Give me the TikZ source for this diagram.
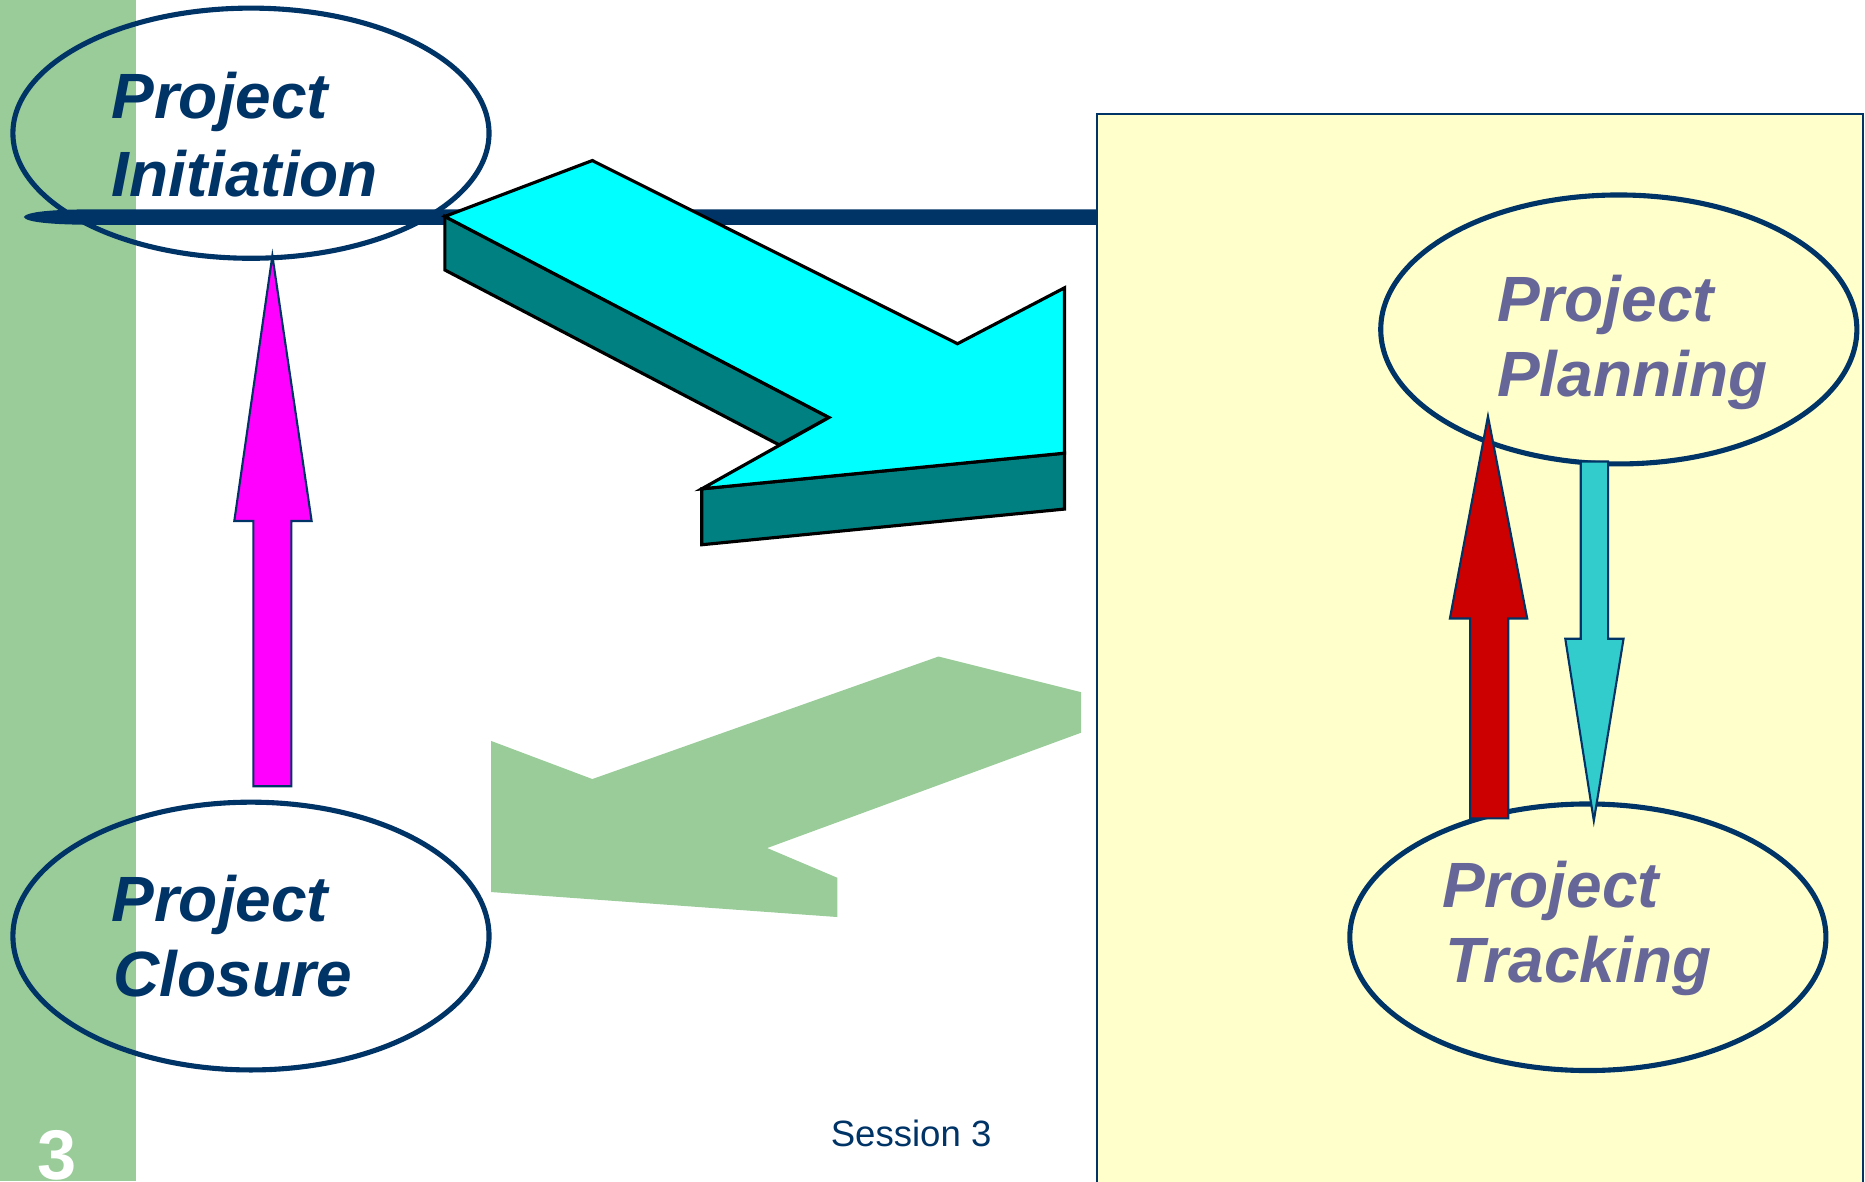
\documentclass[tikz,border=0pt]{standalone}
\usepackage{fontspec}
\setmainfont{Liberation Sans}
\usetikzlibrary{shapes.geometric}
\definecolor{navy}{HTML}{003366}
\definecolor{sidegreen}{HTML}{99CC99}
\definecolor{paleyellow}{HTML}{FFFFCC}
\definecolor{textpurple}{HTML}{666699}
\definecolor{tealside}{HTML}{008080}
\definecolor{cyanface}{HTML}{00FFFF}
\definecolor{magentaarrow}{HTML}{FF00FF}
\definecolor{redarrow}{HTML}{CC0000}
\definecolor{tealarrow}{HTML}{33CCCC}
\begin{document}
\begin{tikzpicture}[x=0.011894cm,y=-0.011894cm,
  phase/.style={ellipse, draw=navy, line width=1.45pt, inner sep=0pt, minimum width=4.758cm},
  phasetext/.style={anchor=base west, inner sep=0pt, font=\fontsize{18.2}{22}\selectfont\bfseries\itshape},
  blockarrow/.style={draw=navy, line width=0.6pt, line join=miter},
  face3d/.style={draw=black, line width=0.9pt, line join=miter}]
\useasboundingbox (0,0) rectangle (1568,993);
\fill[white] (0,0) rectangle (1568,993);
% side strip
\fill[sidegreen] (0,0) rectangle (114,993);
% yellow panel
\draw[fill=paleyellow, draw=navy, line width=0.6pt] (922,96) rectangle (1566,1000);
% pale green arrow
\fill[sidegreen] (909,582) -- (789,552) -- (498,655) -- (413,623) -- (413,750) -- (704,771) -- (704,738) -- (645,713) -- (909,616) -- cycle;
% phase ellipses
\node[phase, minimum height=2.50cm] (init) at (211,112) {};
\node[phase, minimum height=2.676cm] (closure) at (211,787) {};
\node[phase, minimum height=2.688cm] (plan) at (1361,277) {};
\node[phase, minimum height=2.664cm] (track) at (1335,788) {};
% navy bar
\fill[navy] (20,182.5) .. controls (22,178) and (45,176) .. (80,176) -- (922,176) -- (922,189) -- (80,189) .. controls (45,189) and (22,187) .. (20,182.5) -- cycle;
% 3D cyan arrow
\filldraw[face3d, fill=tealside] (374,182) -- (374,227) -- (655,374) -- (697,351) -- cycle;
\filldraw[face3d, fill=tealside] (590,411) -- (590,458) -- (895,428) -- (895,381) -- cycle;
\filldraw[face3d, fill=cyanface] (374,182) -- (498,135) -- (805,289) -- (895,242) -- (895,381) -- (590,411) -- (697,351) -- cycle;
% texts
\node[phasetext, text=navy] (initA) at (93,100) {Project};
\node[phasetext, text=navy] (initB) at (93,165) {Initiation};
\node[phasetext, text=navy] (closA) at (93,775) {Project};
\node[phasetext, text=navy] (closB) at (95,838) {Closure};
\node[phasetext, text=textpurple] (planA) at (1258,270) {Project};
\node[phasetext, text=textpurple] (planB) at (1258,333) {Planning};
\node[phasetext, text=textpurple] (trackA) at (1212,763) {Project};
\node[phasetext, text=textpurple] (trackB) at (1215,826) {Tracking};
% block arrows
\filldraw[blockarrow, fill=magentaarrow] (213,661) -- (213,438) -- (197,438) -- (229,215) -- (262,438) -- (245,438) -- (245,661) -- cycle;
\filldraw[blockarrow, fill=redarrow] (1236,688) -- (1236,520) -- (1219,520) -- (1251,350) -- (1284,520) -- (1268,520) -- (1268,688) -- cycle;
\filldraw[blockarrow, fill=tealarrow] (1329,388) -- (1352,388) -- (1352,537) -- (1365,537) -- (1340,690) -- (1316,537) -- (1329,537) -- cycle;
% footer
\node[anchor=base, inner sep=0pt, text=navy, font=\fontsize{10.4}{12}\selectfont] (session) at (766,964) {Session 3};
\node[anchor=base west, inner sep=0pt, text=white, font=\fontsize{20}{24}\selectfont\bfseries] (pagenum) at (31,992) {3};
\end{tikzpicture}
\end{document}
